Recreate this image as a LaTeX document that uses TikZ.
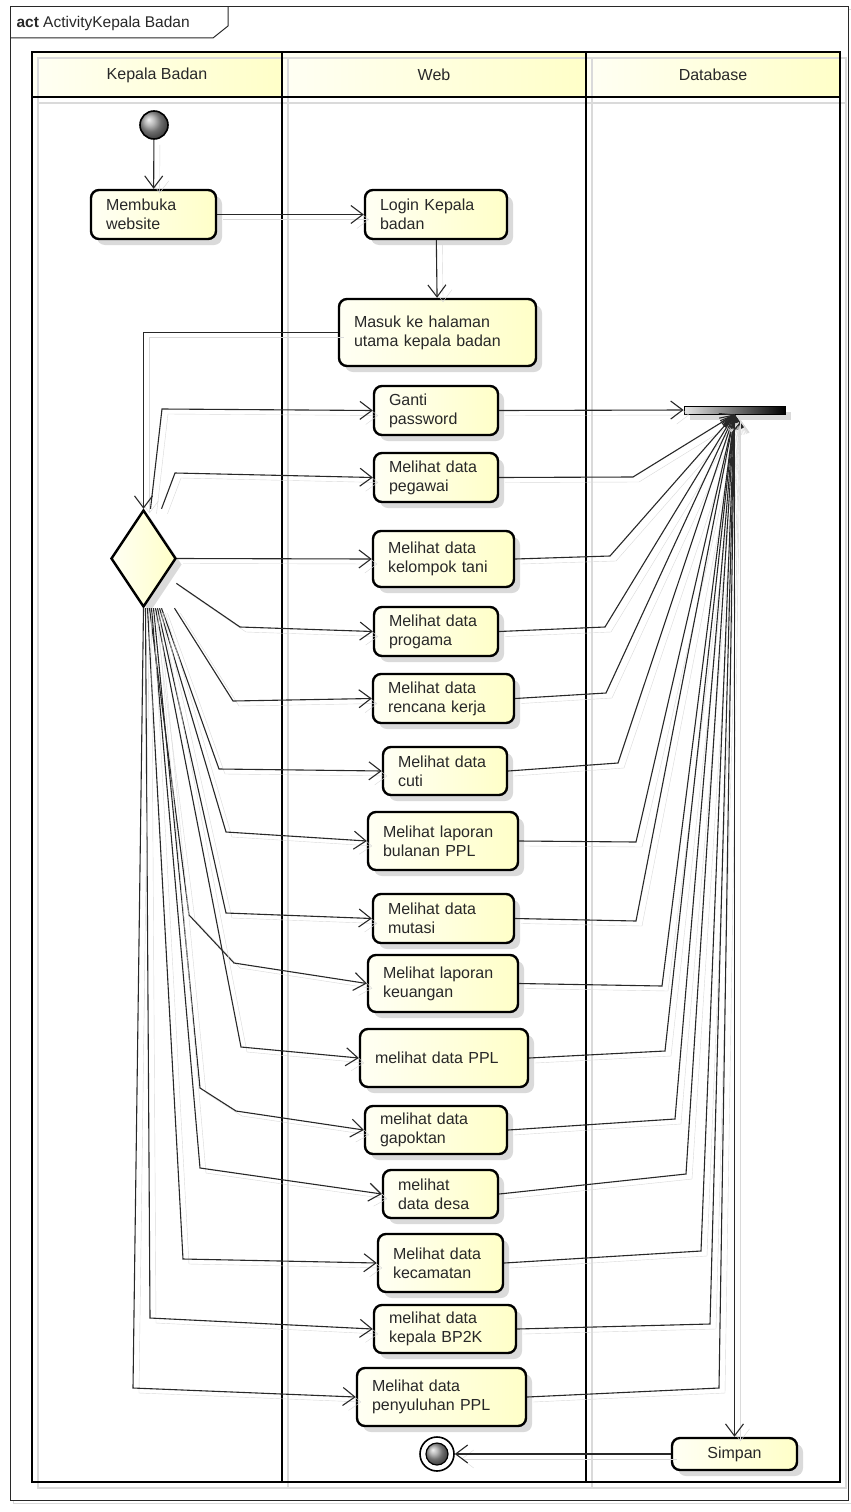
\documentclass[tikz,border=0pt]{standalone}
\usepackage{fontspec}
\setmainfont{Liberation Sans}
\usetikzlibrary{arrows.meta, positioning, shapes.geometric, shadows}
\definecolor{actlight}{RGB}{255,255,244}
\definecolor{actyellow}{RGB}{255,255,200}
\definecolor{shadowgray}{RGB}{218,218,218}
\definecolor{inkgray}{RGB}{40,40,40}

\begin{document}
\begin{tikzpicture}[x=1pt, y=-1pt,
    every node/.style={font=\fontsize{16}{19}\selectfont, text=inkgray},
    act/.style={draw=black, line width=2.4pt, rounded corners=8pt, left color=actlight, right color=actyellow,
      inner xsep=15pt, inner ysep=0pt, align=left,
      drop shadow={shadow xshift=6pt, shadow yshift=-6pt, fill=shadowgray, opacity=1}},
    dec/.style={diamond, draw=black, line width=2.4pt, left color=actlight, right color=actyellow,
      minimum width=65pt, minimum height=97pt, inner sep=0pt,
      drop shadow={shadow xshift=6pt, shadow yshift=-6pt, fill=shadowgray, opacity=1}},
    startdot/.style={circle, draw=black, line width=1.6pt, ball color=gray!75, minimum size=28pt, inner sep=0pt},
    bar/.style={draw=black, line width=0.8pt, left color=gray!20, right color=black, minimum width=101pt,
      minimum height=8pt, inner sep=0pt,
      drop shadow={shadow xshift=6pt, shadow yshift=-6pt, fill=shadowgray, opacity=1}},
    conn/.style={draw=inkgray, line width=1.1pt, -{Straight Barb[length=12pt, width=18pt, line width=1.1pt]},
      preaction={draw=shadowgray, transform canvas={xshift=6pt, yshift=-5pt}}},
    lane/.style={line width=2.6pt},
    hd/.style={font=\fontsize{16}{19}\selectfont}
  ]
    \useasboundingbox (0,0) rectangle (851,1512);
    % frame
    \draw[shadowgray, line width=1pt] (13,10) rectangle (851,1503);
    \draw[white, fill=white] (10,7) rectangle (848,1500);
    \draw[inkgray, line width=1pt] (10,7) rectangle (848,1500);
    \draw[inkgray, line width=1pt] (10,38) -- (213,38) -- (228,26) -- (228,7);
    \node[anchor=west, font=\fontsize{15.5}{18}\selectfont] (tab) at (13,23) {\textbf{act} ActivityKepala Badan};

    % lane headers
    \shade[left color=actlight, right color=actyellow] (32,52) rectangle (282,97);
    \shade[left color=actlight, right color=actyellow] (282,52) rectangle (586,97);
    \shade[left color=actlight, right color=actyellow] (586,52) rectangle (840,97);
    \draw[lane, shadowgray] (38,58) rectangle (846,1488);
    \draw[lane, shadowgray] (288,58) -- (288,1488) (592,58) -- (592,1488) (38,103) -- (846,103);
    \draw[lane] (32,52) rectangle (840,1482);
    \draw[lane] (282,52) -- (282,1482) (586,52) -- (586,1482) (32,97) -- (840,97);
    \node[hd] (hkb) at (157,75) {Kepala Badan};
    \node[hd] (hweb) at (434,75) {Web};
    \node[hd] (hdb) at (713,75) {Database};

    % start
    \node[startdot] (init) at (154,125) {};
    \node[act, text width=95pt, minimum height=49pt] (buka) at (153.5,214.5) {Membuka\\website};
    \node[act, text width=112pt, minimum height=49pt] (login) at (436,214.5) {Login Kepala\\badan};
    \node[act, text width=167pt, minimum height=67pt] (masuk) at (437.5,332.5) {Masuk ke halaman\\utama kepala badan};
    \node[dec] (dec) at (143.5,558.5) {};

    % menu
    \node[act, text width=94pt, minimum height=49pt] (ganti) at (436,410.5) {Ganti\\password};
    \node[act, text width=94pt, minimum height=49pt] (pegawai) at (436,477.5) {Melihat data\\pegawai};
    \node[act, text width=111pt, minimum height=56pt] (tani) at (443.5,559) {Melihat data\\kelompok tani};
    \node[act, text width=94pt, minimum height=49pt] (progama) at (436,631.5) {Melihat data\\progama};
    \node[act, text width=111pt, minimum height=49pt] (rencana) at (443.5,698.5) {Melihat data\\rencana kerja};
    \node[act, text width=94pt, minimum height=48pt] (cuti) at (445,771) {Melihat data\\cuti};
    \node[act, text width=120pt, minimum height=58pt] (bulanan) at (443,841) {Melihat laporan\\bulanan PPL};
    \node[act, text width=111pt, minimum height=49pt] (mutasi) at (443.5,918.5) {Melihat data\\mutasi};
    \node[act, text width=120pt, minimum height=57pt] (keuangan) at (443,983.5) {Melihat laporan\\keuangan};
    \node[act, text width=138pt, minimum height=58pt] (ppl) at (444,1058) {melihat data PPL};
    \node[act, text width=112pt, minimum height=48pt] (gapoktan) at (436,1130) {melihat data\\gapoktan};
    \node[act, text width=85pt, minimum height=48pt] (desa) at (440.5,1194) {melihat\\data desa};
    \node[act, text width=95pt, minimum height=58pt] (kecamatan) at (440.5,1263) {Melihat data\\kecamatan};
    \node[act, text width=112pt, minimum height=48pt] (bp2k) at (445,1329) {melihat data\\kepala BP2K};
    \node[act, text width=139pt, minimum height=58pt] (penyuluhan) at (441.5,1397) {Melihat data\\penyuluhan PPL};

    % database
    \node[bar] (bar) at (734.5,410) {};
    \node[act, align=center, text width=95pt, minimum height=32pt] (simpan) at (734.5,1454) {Simpan};

    % end
    \node[circle, draw=black, line width=1.6pt, fill=white, minimum size=34pt, inner sep=0pt] (fin) at (437,1454) {};
    \node[startdot, minimum size=22pt, line width=1.2pt] (finin) at (fin) {};

    % flow to decision
    \draw[conn] (init) -- (buka);
    \draw[conn] (buka) -- (login);
    \draw[conn] (login) -- (masuk);
    \draw[conn] (masuk.west) -| (dec.north);

    % decision to menu
    \draw[conn] ([xshift=7pt]dec.north) -- (162,409) -- (ganti.west);
    \draw[conn] ([xshift=18pt]dec.north) -- (175,473) -- (pegawai.west);
    \draw[conn] (dec.east) -- (tani.west);
    \draw[conn] ([xshift=16pt]dec.south east) -- (240,627) -- (progama.west);
    \draw[conn] ([xshift=31pt]dec.south) -- (233,701) -- (rencana.west);
    \draw[conn] ([xshift=18pt]dec.south) -- (219,769) -- (cuti.west);
    \draw[conn] ([xshift=16pt]dec.south) -- (226,832) -- (bulanan.west);
    \draw[conn] ([xshift=14pt]dec.south) -- (226,913) -- (mutasi.west);
    \draw[conn] ([xshift=6pt]dec.south) -- (189,915) -- (234,963) -- (keuangan.west);
    \draw[conn] ([xshift=12pt]dec.south) -- (241,1047) -- (ppl.west);
    \draw[conn] ([xshift=10pt]dec.south) -- (200,1088) -- (236,1111) -- (gapoktan.west);
    \draw[conn] ([xshift=8pt]dec.south) -- (200,1168) -- (desa.west);
    \draw[conn] ([xshift=4pt]dec.south) -- (183,1259) -- (kecamatan.west);
    \draw[conn] ([xshift=2pt]dec.south) -- (150,1318) -- (bp2k.west);
    \draw[conn] (dec.south) -- (133,1388) -- (penyuluhan.west);

    % menu to database
    \draw[conn] (ganti.east) -- (bar.west);
    \draw[conn] (pegawai.east) -- (633,477) -- (bar.south);
    \draw[conn] (tani.east) -- (610,556) -- (bar.south);
    \draw[conn] (progama.east) -- (605,627) -- (bar.south);
    \draw[conn] (rencana.east) -- (606,693) -- (bar.south);
    \draw[conn] (cuti.east) -- (618,763) -- (bar.south);
    \draw[conn] (bulanan.east) -- (636,842) -- (bar.south);
    \draw[conn] (mutasi.east) -- (636,921) -- (bar.south);
    \draw[conn] (keuangan.east) -- (662,986) -- (bar.south);
    \draw[conn] (ppl.east) -- (665,1051) -- (bar.south);
    \draw[conn] (gapoktan.east) -- (675,1119) -- (bar.south);
    \draw[conn] (desa.east) -- (686,1174) -- (bar.south);
    \draw[conn] (kecamatan.east) -- (701,1251) -- (bar.south);
    \draw[conn] (bp2k.east) -- (710,1324) -- (bar.south);
    \draw[conn] (penyuluhan.east) -- (719,1388) -- (bar.south);

    % save and finish
    \draw[conn] (bar.south) -- (simpan.north);
    \draw[conn] (simpan.west) -- (fin);
  \end{tikzpicture}
\end{document}
